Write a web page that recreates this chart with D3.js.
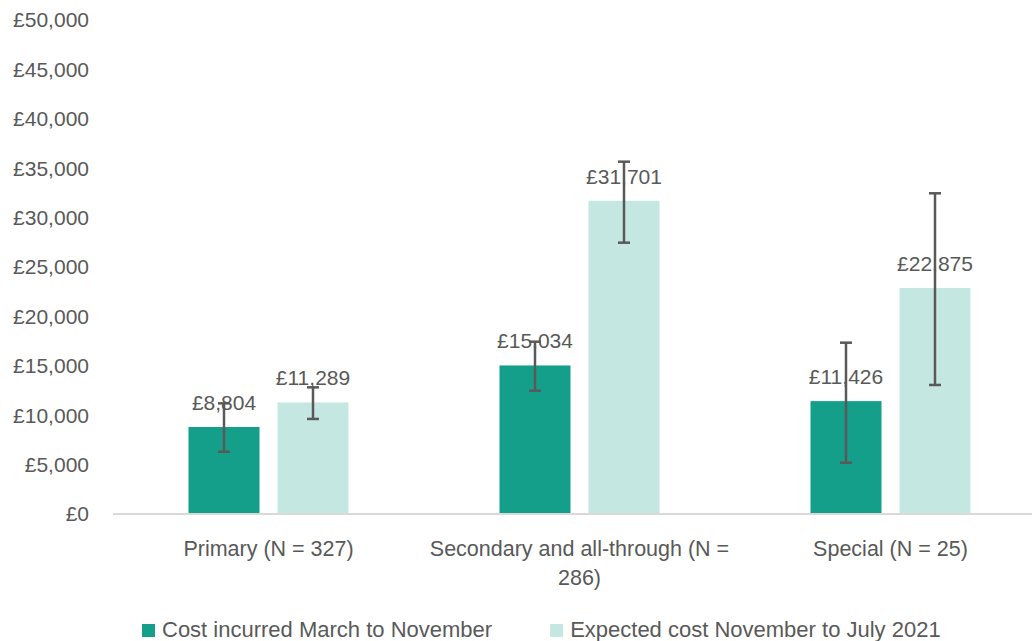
<!DOCTYPE html>
<html>
<head>
<meta charset="utf-8">
<script src="https://cdn.jsdelivr.net/npm/d3@7"></script>
<style>
  body { margin: 0; background: #fff; }
  text { font-family: "Liberation Sans", Arial, sans-serif; fill: #595959; }
</style>
</head>
<body>
<div class="chart"></div>
<script>
// categories and series
var categories = ["Primary (N = 327)", "Secondary and all-through (N = 286)", "Special (N = 25)"];
var seriesNames = ["Cost incurred March to November", "Expected cost November to July 2021"];
var seriesColors = ["#139F8A", "#C5E7E1"];

// bar values
var costIncurred = [8804, 15034, 11426];
var expectedCost = [11289, 31701, 22875];

// error bar ranges
var incurredLow = [6300, 12480, 5190];
var incurredHigh = [11200, 17440, 17340];
var expectedLow = [9620, 27460, 13060];
var expectedHigh = [12820, 35660, 32460];

var yTicks = [0, 5000, 10000, 15000, 20000, 25000, 30000, 35000, 40000, 45000, 50000];

var width = 1032, height = 641;
var svg = d3.select(".chart").append("svg").attr("width", width).attr("height", height);

// plot runs a little past the right edge, as in the original
var x0 = d3.scaleBand().domain(categories).range([113, 1046]);
var x1 = d3.scaleBand().domain(seriesNames).range([75.5, x0.bandwidth() - 75.5]).paddingInner(18 / 89);
var y = d3.scaleLinear().domain([0, 50000]).range([514, 20]);

var fmt = function(d) { return "£" + d3.format(",")(d); };

// y axis labels (no gridlines)
svg.append("g").selectAll("text").data(yTicks).enter().append("text")
    .attr("x", 89).attr("y", function(d) { return y(d); })
    .attr("dy", "0.35em").attr("text-anchor", "end").attr("font-size", "21px")
    .text(fmt);

// build rows from arrays
var rows = [];
categories.forEach(function(c, i) {
    rows.push({cat: c, s: seriesNames[0], v: costIncurred[i], lo: incurredLow[i], hi: incurredHigh[i], col: seriesColors[0]});
    rows.push({cat: c, s: seriesNames[1], v: expectedCost[i], lo: expectedLow[i], hi: expectedHigh[i], col: seriesColors[1]});
});

var bx = function(d) { return x0(d.cat) + x1(d.s); };
var cx = function(d) { return bx(d) + x1.bandwidth() / 2; };

svg.append("g").selectAll("rect").data(rows).enter().append("rect")
    .attr("x", bx).attr("y", function(d) { return y(d.v); })
    .attr("width", x1.bandwidth()).attr("height", function(d) { return y(0) - y(d.v); })
    .attr("fill", function(d) { return d.col; });

// x axis line
svg.append("line").attr("x1", x0.range()[0]).attr("x2", x0.range()[1])
    .attr("y1", y(0)).attr("y2", y(0)).attr("stroke", "#D9D9D9").attr("stroke-width", 2);

// value labels
svg.append("g").selectAll("text").data(rows).enter().append("text")
    .attr("x", cx).attr("y", function(d) { return y(d.v) - 17; })
    .attr("text-anchor", "middle").attr("font-size", "21px")
    .text(function(d) { return fmt(d.v); });

// error bars
var eb = svg.append("g").attr("stroke", "#595959").attr("stroke-width", 2.5);
rows.forEach(function(d) {
    var c = cx(d);
    eb.append("line").attr("x1", c).attr("x2", c).attr("y1", y(d.lo)).attr("y2", y(d.hi));
    eb.append("line").attr("x1", c - 6).attr("x2", c + 6).attr("y1", y(d.lo)).attr("y2", y(d.lo));
    eb.append("line").attr("x1", c - 6).attr("x2", c + 6).attr("y1", y(d.hi)).attr("y2", y(d.hi));
});

// category labels, wrapped like Excel does
categories.forEach(function(c) {
    var t = svg.append("text").attr("text-anchor", "middle").attr("font-size", "21.5px");
    var words = c.split(" "), line = [], lines = [];
    var probe = svg.append("text").attr("font-size", "21.5px");
    words.forEach(function(w) {
        line.push(w);
        probe.text(line.join(" "));
        if (probe.node().getComputedTextLength() > 310 && line.length > 1) {
            line.pop();
            lines.push(line.join(" "));
            line = [w];
        }
    });
    lines.push(line.join(" "));
    probe.remove();
    lines.forEach(function(l, i) {
        t.append("tspan").attr("x", x0(c) + x0.bandwidth() / 2).attr("y", 556 + i * 29).text(l);
    });
});

// legend
var lx = 142;
seriesNames.forEach(function(s, i) {
    svg.append("rect").attr("x", lx).attr("y", 624).attr("width", 13).attr("height", 13).attr("fill", seriesColors[i]);
    var t = svg.append("text").attr("x", lx + 20).attr("y", 637).attr("font-size", "22px").text(s);
    lx = lx + 20 + t.node().getComputedTextLength() + 58;
});
</script>
</body>
</html>
